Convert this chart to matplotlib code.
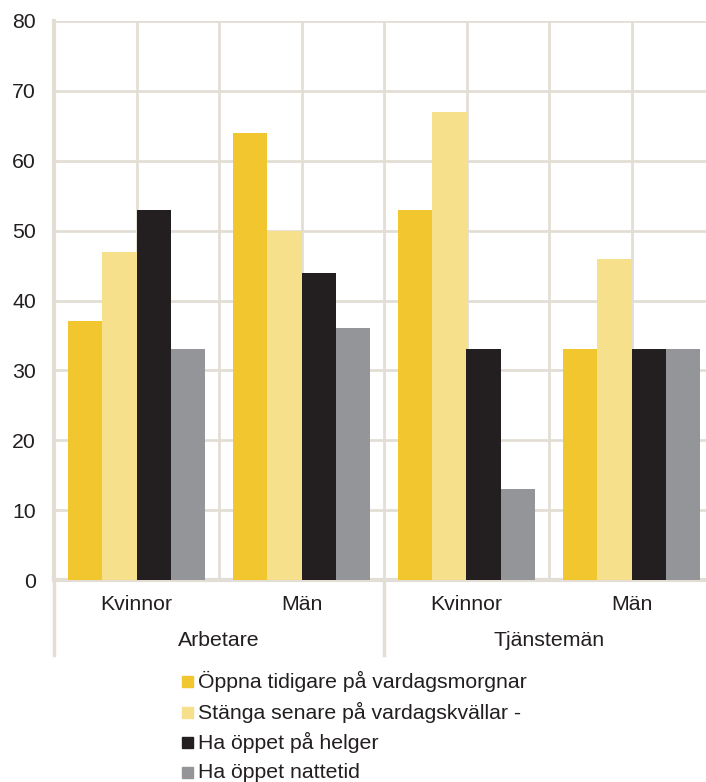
import numpy as np
import matplotlib.pyplot as plt
from matplotlib.patches import Rectangle

plt.rcParams['font.family'] = ['Liberation Sans', 'DejaVu Sans']

# data
kategorier = ["Kvinnor", "Män", "Kvinnor", "Män"]
grupper = ["Arbetare", "Tjänstemän"]
serier = ["Öppna tidigare på vardagsmorgnar",
          "Stänga senare på vardagskvällar -",
          "Ha öppet på helger",
          "Ha öppet nattetid"]
tidigare = [37, 64, 53, 33]
senare = [47, 50, 67, 46]
helger = [53, 44, 33, 33]
natt = [33, 36, 13, 33]
farger = ["#F2C62F", "#F6E08C", "#231F20", "#939598"]

grid_c = "#E3DED5"
text_c = "#231F20"
fs = 15.3

fig = plt.figure(figsize=(7.06, 7.82), dpi=100)
W, H = 706, 782
ax = fig.add_axes([54 / W, 1 - 580 / H, (714 - 54) / W, (580 - 21) / H])

x = np.arange(len(kategorier))
bw = 0.209
for i, (vals, c) in enumerate(zip([tidigare, senare, helger, natt], farger)):
    ax.bar(x + (i - 1.5) * bw, vals, bw, color=c, zorder=3, linewidth=0)

ax.set_xlim(-0.5, 3.5)
ax.set_ylim(0, 80)
ax.set_yticks(range(0, 81, 10))
ax.set_xticks(x)
ax.set_xticks(np.arange(-0.5, 4, 1), minor=True)
ax.set_xticklabels([])
ax.grid(True, which="both", color=grid_c, lw=2, zorder=0)
ax.tick_params(axis="both", which="both", length=0)
ax.tick_params(axis="y", labelsize=fs, labelcolor=text_c, pad=13)
for s in ["top", "right"]:
    ax.spines[s].set_visible(False)
ax.spines["left"].set_color(grid_c)
ax.spines["left"].set_linewidth(3)
ax.spines["bottom"].set_color(grid_c)
ax.spines["bottom"].set_linewidth(3)

# multi-level category axis
tr = ax.get_xaxis_transform()
for xi, lab in zip(x, kategorier):
    ax.text(xi, -25 / 559, lab, transform=tr, ha="center", va="center",
            fontsize=fs, color=text_c)
for gi, g in enumerate(grupper):
    ax.text(0.5 + 2 * gi, -60 / 559, g, transform=tr, ha="center", va="center",
            fontsize=fs, color=text_c)
for xs in [-0.5, 1.5, 3.5]:
    ax.plot([xs, xs], [0, -75 / 559], transform=tr, color=grid_c, lw=2.5,
            clip_on=False, zorder=1)

# legend
rows = [681, 712, 742, 772]
for lab, c, yr in zip(serier, farger, rows):
    fig.patches.append(Rectangle((182 / W, 1 - (yr + 5.5) / H), 11 / W, 11 / H,
                                 transform=fig.transFigure, color=c))
    fig.text(198 / W, 1 - yr / H, lab, ha="left", va="center",
             fontsize=fs, color=text_c)

fig.savefig("out.png", dpi=100)
